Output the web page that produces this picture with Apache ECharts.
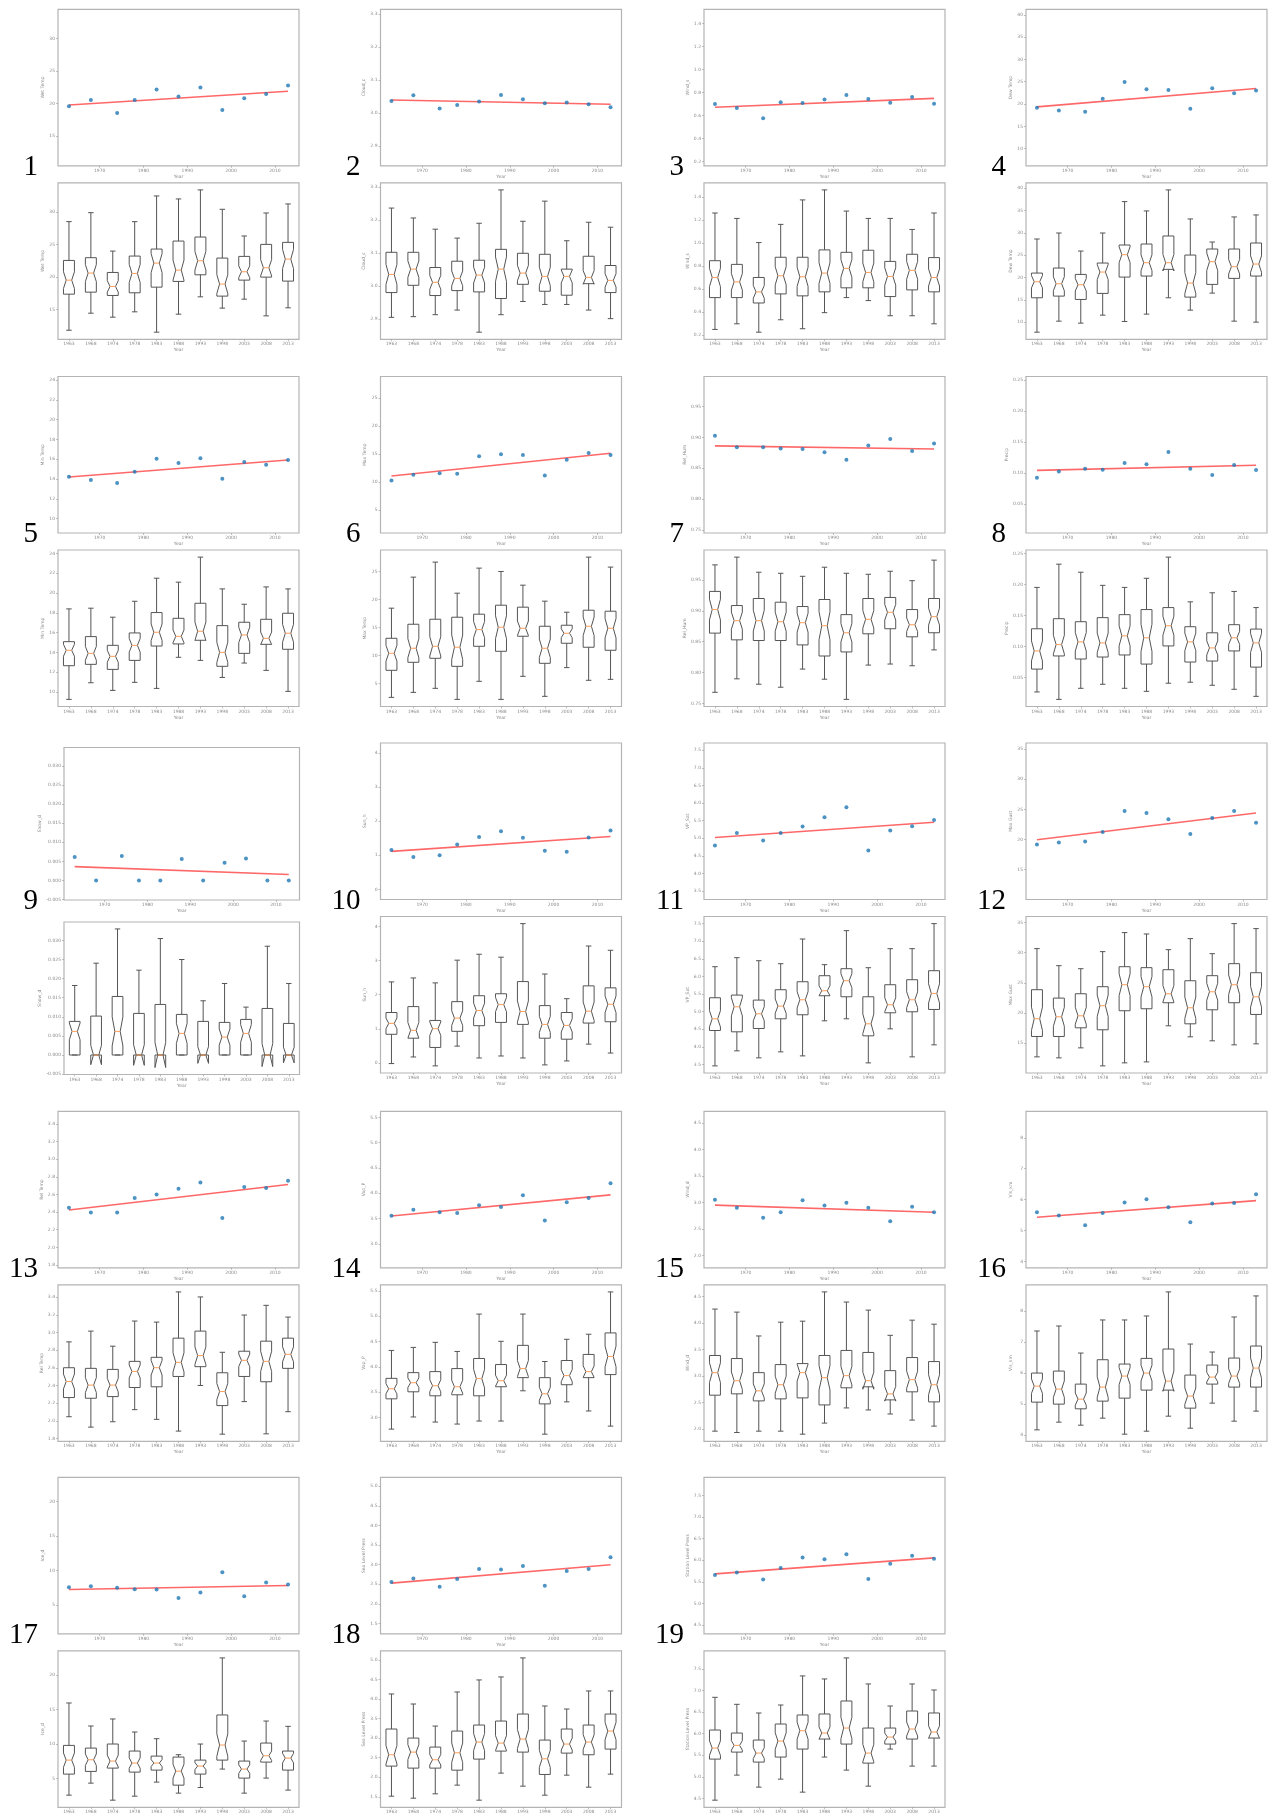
<!DOCTYPE html>
<html><head><meta charset="utf-8">
<script src="https://cdn.jsdelivr.net/npm/echarts@6/dist/echarts.min.js"></script>
<style>html,body{margin:0;padding:0;background:#fff;}#chart{width:1279px;height:1814px;}</style>
</head><body><div id="chart"></div>
<script>
// ---------------- data ----------------
const years = [1963, 1968, 1974, 1978, 1983, 1988, 1993, 1998, 2003, 2008, 2013];
const yearLabels = ['1963', '1968', '1974', '1978', '1983', '1988', '1993', '1998', '2003', '2008', '2013'];
const scatterXTicks = [1970, 1980, 1990, 2000, 2010];
const panelLabels = ['1','2','3','4','5','6','7','8','9','10','11','12','13','14','15','16','17','18','19'];
const yNames = ['Wet Temp','Cloud_c','Wind_s','Dew Temp','Min Temp','Max Temp','Rel_Hum','Precip','Snow_d','Sun_h',
  'VP_Sat','Max Gust','Rel Temp','Vap_P','Wind_d','Vis_km','Ice_d','Sea Level Press','Station Level Press'];
const yTicks = [
  [15,20,25,30], [2.9,3.0,3.1,3.2,3.3], [0.2,0.4,0.6,0.8,1.0,1.2,1.4], [10,15,20,25,30,35,40],
  [10,12,14,16,18,20,22,24], [5,10,15,20,25], [0.75,0.80,0.85,0.90,0.95], [0.05,0.10,0.15,0.20,0.25],
  [-0.005,0,0.005,0.010,0.015,0.020,0.025,0.030], [0,1,2,3,4], [3.5,4.0,4.5,5.0,5.5,6.0,6.5,7.0,7.5], [10,15,20,25,30,35],
  [1.8,2.0,2.2,2.4,2.6,2.8,3.0,3.2,3.4], [3.0,3.5,4.0,4.5,5.0,5.5], [2.0,2.5,3.0,3.5,4.0,4.5], [4,5,6,7,8],
  [5,10,15,20], [1.5,2.0,2.5,3.0,3.5,4.0,4.5,5.0], [4.5,5.0,5.5,6.0,6.5,7.0,7.5]
];
const yTickDecimals = [0,1,1,0,0,0,2,2,3,0,1,0,1,1,1,0,0,1,1];

// per-year points of the upper panels
const yearPoints = [
  [19.57,20.55,18.55,20.55,22.14,21.06,22.45,19.01,20.81,21.47,22.76],
  [3.036,3.053,3.013,3.024,3.034,3.054,3.041,3.029,3.031,3.026,3.017],
  [0.699,0.664,0.574,0.713,0.708,0.739,0.777,0.742,0.710,0.760,0.702],
  [19.15,18.56,18.26,21.16,24.95,23.32,23.17,18.93,23.54,22.42,23.02],
  [14.22,13.89,13.58,14.73,16.05,15.61,16.08,14.02,15.71,15.44,15.92],
  [10.30,11.32,11.56,11.50,14.60,14.95,14.83,11.20,14.00,15.19,14.83],
  [0.9027,0.8840,0.8840,0.8818,0.8812,0.8757,0.8637,0.8867,0.8972,0.8779,0.8900],
  [0.0923,0.1027,0.1071,0.1055,0.1164,0.1142,0.1340,0.1071,0.0967,0.1131,0.1049],
  [0.00613,0,0.00639,0,0,0.00561,0,0.00466,0.00579,0,0],
  [1.155,0.952,1.000,1.321,1.534,1.709,1.515,1.136,1.107,1.524,1.728],
  [4.792,5.150,4.934,5.150,5.330,5.594,5.877,4.650,5.217,5.339,5.518],
  [19.17,19.51,19.67,21.23,24.73,24.40,23.34,20.90,23.57,24.73,22.79],
  [2.449,2.396,2.396,2.559,2.600,2.664,2.736,2.332,2.683,2.672,2.755],
  [3.557,3.676,3.623,3.610,3.762,3.729,3.961,3.464,3.822,3.908,4.200],
  [3.054,2.902,2.713,2.820,3.047,2.947,2.997,2.902,2.650,2.921,2.820],
  [5.589,5.481,5.167,5.567,5.903,6.011,5.751,5.265,5.870,5.892,6.173],
  [7.573,7.718,7.476,7.281,7.233,6.019,6.796,9.757,6.262,8.252,7.961],
  [2.553,2.647,2.433,2.630,2.887,2.878,2.964,2.459,2.835,2.887,3.186],
  [5.659,5.714,5.551,5.822,6.061,6.023,6.139,5.567,5.915,6.100,6.031]
];
// fitted line values at the first and last year
const trendEnds = [
  [19.78,21.89],[3.039,3.026],[0.670,0.748],[19.37,23.47],[14.19,15.92],[11.08,15.13],[0.8862,0.8812],
  [0.1044,0.1126],[0.00363,0.00156],[1.117,1.554],[5.018,5.452],[19.95,24.40],[2.423,2.713],[3.550,3.968],
  [2.953,2.820],[5.427,5.967],[7.233,7.815],[2.527,2.998],[5.683,6.054]
];
const boxLow = [
  [11.81,14.43,13.82,14.64,11.51,14.28,16.95,15.21,16.59,14.02,15.26],
  [2.906,2.908,2.914,2.928,2.861,2.914,2.954,2.945,2.945,2.928,2.902],
  [0.247,0.296,0.223,0.331,0.253,0.393,0.524,0.498,0.366,0.366,0.296],
  [7.75,10.22,9.78,11.57,10.15,11.80,15.46,12.69,16.51,10.22,10.00],
  [9.26,10.94,10.17,10.98,10.37,13.51,13.20,11.48,12.93,12.19,10.07],
  [2.56,3.45,4.17,2.20,5.42,2.20,6.31,2.74,7.86,5.60,5.77],
  [0.7680,0.7898,0.7811,0.7762,0.8056,0.7892,0.7565,0.8121,0.8138,0.8110,0.8367],
  [0.0267,0.0147,0.0326,0.0391,0.0326,0.0277,0.0408,0.0424,0.0375,0.0310,0.0196],
  [0,0,0,0,0,0,0,0,0,0,0],
  [-0.019,0.174,-0.087,0.493,0.145,0.203,0.145,-0.058,0.058,0.551,0.290],
  [3.462,3.889,3.690,3.860,3.746,4.742,4.799,3.547,4.514,3.718,4.059],
  [12.72,12.55,14.21,11.22,11.72,11.88,17.87,16.04,15.38,14.71,14.88],
  [2.047,1.929,1.990,2.127,2.017,1.884,2.401,1.849,2.218,1.853,2.104],
  [2.767,3.007,2.907,2.867,2.927,2.927,3.525,2.667,3.306,3.126,2.827],
  [1.962,1.937,1.962,1.962,1.905,2.114,2.400,2.362,2.286,2.171,2.057],
  [4.162,4.411,4.313,4.541,4.022,4.119,4.605,4.216,5.027,4.443,4.768],
  [2.58,4.32,1.85,2.43,4.47,2.87,3.69,6.36,2.87,5.05,3.31],
  [1.517,1.466,1.577,1.799,1.415,2.106,1.773,1.543,2.054,1.747,2.080],
  [4.461,5.041,4.763,4.948,4.647,5.459,5.157,4.786,5.644,5.250,5.250]
];
const boxQ1 = [
  [17.36,17.67,17.16,17.57,18.44,19.32,20.34,17.06,19.52,19.98,19.37],
  [2.981,3.003,2.972,2.987,2.983,2.963,3.006,2.985,2.973,3.008,2.981],
  [0.524,0.524,0.477,0.556,0.539,0.574,0.609,0.609,0.533,0.591,0.574],
  [15.46,15.84,15.09,16.44,20.10,20.33,21.83,15.61,18.46,19.81,20.33],
  [12.66,12.80,12.29,13.20,14.65,14.86,15.23,12.60,13.91,14.82,14.32],
  [7.38,8.81,9.52,8.09,11.66,10.77,13.45,8.63,12.20,11.49,10.95],
  [0.8639,0.8530,0.8519,0.8519,0.8448,0.8268,0.8334,0.8628,0.8710,0.8579,0.8645],
  [0.0636,0.0848,0.0799,0.0831,0.0864,0.0717,0.1010,0.0750,0.0766,0.0929,0.0668],
  [0,0,0,0,0,0,0,0,0,0,0],
  [0.840,0.725,0.454,0.927,1.092,1.188,1.130,0.725,0.696,1.169,1.208],
  [4.467,4.429,4.524,4.799,4.913,5.453,5.424,4.315,4.969,4.998,5.064],
  [16.10,16.10,17.54,17.21,20.37,20.70,21.70,18.20,20.53,21.70,19.76],
  [2.264,2.256,2.275,2.378,2.386,2.503,2.614,2.173,2.503,2.443,2.595],
  [3.366,3.505,3.426,3.446,3.426,3.605,3.785,3.266,3.645,3.785,3.845],
  [2.641,2.666,2.533,2.571,2.590,2.457,2.780,2.799,2.552,2.704,2.514],
  [5.059,4.995,4.843,5.092,5.189,5.449,5.449,4.865,5.643,5.546,5.546],
  [5.63,6.02,6.50,5.92,6.21,4.03,5.63,7.66,5.05,7.37,6.21],
  [2.285,2.234,2.234,2.182,2.464,2.669,2.643,2.072,2.617,2.575,2.720],
  [5.412,5.574,5.343,5.459,5.644,5.876,5.760,5.319,5.760,5.876,5.899]
];
const boxMedian = [
  [19.52,20.60,18.55,20.55,22.14,21.06,22.50,18.91,20.81,21.42,22.76],
  [3.036,3.052,3.012,3.024,3.034,3.052,3.040,3.030,3.030,3.027,3.018],
  [0.699,0.661,0.574,0.714,0.705,0.737,0.778,0.743,0.708,0.761,0.699],
  [19.06,18.61,18.38,21.23,25.12,23.32,23.32,18.76,23.55,22.43,23.02],
  [14.22,13.91,13.61,14.72,16.04,15.63,16.14,14.01,15.77,15.43,15.94],
  [10.41,11.31,11.66,11.49,14.64,15.06,14.88,11.31,13.98,15.23,14.88],
  [0.9021,0.8841,0.8841,0.8824,0.8808,0.8759,0.8645,0.8863,0.8977,0.8775,0.8906],
  [0.0929,0.1032,0.1076,0.1059,0.1173,0.1141,0.1336,0.1076,0.0978,0.1141,0.1059],
  [0.00618,0,0.00618,0,0,0.00566,0,0.00470,0.00566,0,0],
  [1.159,0.956,1.005,1.314,1.536,1.710,1.507,1.130,1.101,1.517,1.720],
  [4.799,5.140,4.941,5.159,5.339,5.595,5.879,4.657,5.197,5.339,5.519],
  [19.04,19.37,19.53,21.20,24.69,24.36,23.19,20.86,23.52,24.69,22.69],
  [2.446,2.405,2.405,2.560,2.602,2.663,2.739,2.332,2.686,2.674,2.754],
  [3.565,3.685,3.625,3.605,3.765,3.725,3.964,3.466,3.825,3.904,4.204],
  [3.066,2.914,2.723,2.838,3.066,2.971,3.009,2.914,2.666,2.933,2.838],
  [5.578,5.481,5.157,5.546,5.903,6.000,5.740,5.254,5.870,5.903,6.162],
  [7.66,7.71,7.52,7.23,7.23,6.06,6.79,9.84,6.36,8.29,7.95],
  [2.575,2.643,2.447,2.626,2.899,2.873,2.976,2.472,2.848,2.899,3.180],
  [5.667,5.729,5.551,5.830,6.069,6.015,6.131,5.551,5.922,6.108,6.038]
];
const boxQ3 = [
  [22.55,22.97,20.70,23.22,24.30,25.53,26.15,22.91,23.17,25.02,25.33],
  [3.103,3.103,3.057,3.076,3.079,3.112,3.100,3.097,3.052,3.091,3.063],
  [0.845,0.813,0.699,0.875,0.875,0.939,0.918,0.936,0.839,0.901,0.872],
  [21.00,22.13,20.70,23.25,27.29,27.51,29.31,25.04,26.39,26.39,27.74],
  [15.09,15.60,14.72,15.97,18.03,17.45,18.97,16.71,17.05,17.35,17.96],
  [13.09,15.59,16.48,16.84,17.38,18.98,18.63,15.23,15.41,18.09,17.91],
  [0.9315,0.9086,0.9200,0.9140,0.9070,0.9184,0.8939,0.9200,0.9217,0.9021,0.9200],
  [0.1287,0.1450,0.1401,0.1467,0.1515,0.1597,0.1629,0.1320,0.1222,0.1353,0.1282],
  [0.00880,0.01019,0.01533,0.01089,0.01324,0.01063,0.00880,0.00854,0.00932,0.01219,0.00827],
  [1.478,1.652,1.246,1.797,1.971,2.029,2.386,1.681,1.478,2.260,2.202],
  [5.396,5.472,5.330,5.624,5.851,6.022,6.221,5.424,5.766,5.908,6.164],
  [23.86,22.47,23.19,24.36,27.68,27.52,27.18,25.35,26.19,28.18,26.68],
  [2.602,2.595,2.583,2.674,2.720,2.937,3.017,2.545,2.789,2.903,2.937],
  [3.771,3.884,3.904,3.964,4.164,4.044,4.423,3.785,4.124,4.244,4.669],
  [3.390,3.332,3.066,3.218,3.237,3.390,3.485,3.447,3.104,3.351,3.275],
  [6.000,6.065,5.643,6.432,6.292,6.475,6.778,5.935,6.259,6.486,6.875],
  [9.79,9.40,9.99,8.97,8.24,8.10,7.66,14.20,7.52,10.13,8.97],
  [3.232,3.001,2.771,3.180,3.334,3.436,3.615,2.950,3.232,3.334,3.615],
  [6.085,6.015,5.853,6.224,6.433,6.456,6.757,6.131,6.131,6.525,6.479]
];
const boxHigh = [
  [28.52,29.90,23.99,28.52,32.47,32.01,33.40,30.42,26.31,29.85,31.24],
  [3.237,3.207,3.173,3.146,3.191,3.292,3.197,3.258,3.138,3.194,3.179],
  [1.260,1.213,1.003,1.161,1.374,1.461,1.277,1.213,1.213,1.117,1.260],
  [28.64,29.98,25.94,29.98,37.02,34.93,39.64,33.13,27.96,33.58,34.03],
  [18.40,18.47,17.56,19.17,21.50,21.10,23.63,20.42,18.87,20.62,20.42],
  [18.45,23.98,26.66,21.12,25.59,24.99,22.55,19.70,17.73,27.55,25.77],
  [0.9745,0.9871,0.9626,0.9609,0.9560,0.9707,0.9609,0.9593,0.9642,0.9489,0.9822],
  [0.1955,0.2330,0.2200,0.1988,0.1955,0.2102,0.2444,0.1722,0.1868,0.1890,0.1629],
  [0.01820,0.02404,0.03301,0.02221,0.03049,0.02500,0.01420,0.01873,0.01254,0.02848,0.01873],
  [2.376,2.492,2.347,3.014,3.188,3.101,4.086,2.608,1.884,3.429,3.304],
  [6.278,6.534,6.448,6.363,7.064,6.335,7.301,6.249,6.790,6.790,7.501],
  [30.68,27.85,27.35,30.18,33.34,33.11,30.51,32.34,29.84,34.83,34.00],
  [2.895,3.017,2.846,3.131,3.119,3.461,3.404,2.777,3.199,3.309,3.176],
  [4.323,4.383,4.483,4.303,5.042,4.503,5.042,4.104,4.543,4.643,5.480],
  [4.265,4.208,3.758,4.018,4.037,4.589,4.398,4.246,3.770,4.056,3.980],
  [7.362,7.524,6.648,7.719,7.719,7.848,8.627,6.940,6.681,7.816,8.497],
  [15.94,12.60,13.62,11.73,10.76,8.44,9.99,22.47,10.42,13.32,12.55],
  [4.127,3.871,3.308,4.178,4.486,4.562,5.048,3.820,3.743,4.204,4.204],
  [6.842,6.680,6.479,6.664,7.337,7.267,7.754,7.151,6.641,7.151,7.012]
];
const NOTCH_N = 40; // sample count used for the notch width

// ---------------- layout ----------------
const COL_LEFT = [58, 380.5, 704, 1026];
const ROW_TOP = [9.3, 376.5, 743, 1111.3, 1477.3];
const PANEL_W = 241, PANEL_H = 156.5, BOX_OFFSET = 173.5;
const LINE_C = '#555555', FRAME_C = '#b4b4b4', LABEL_C = '#8a8a8a';

function panelRects(p) {
  const col = p % 4, row = Math.floor(p / 4);
  let l = COL_LEFT[col], t = ROW_TOP[row], w = PANEL_W, h = PANEL_H;
  if (p === 8) { // panel 9 axes are slightly smaller
    return [{left: 64, top: 747.5, width: 235.5, height: 152.5}, {left: 64, top: 922, width: 235.5, height: 152.5}];
  }
  return [{left: l, top: t, width: w, height: h}, {left: l, top: t + BOX_OFFSET, width: w, height: h}];
}

const grids = [], xAxes = [], yAxes = [], series = [], graphics = [];
const notchK = 1.57 / Math.sqrt(NOTCH_N);

function yAxisFor(p, gi, min, max) {
  const d = yTickDecimals[p];
  return {
    type: 'value', gridIndex: gi, min: min, max: max,
    name: yNames[p], nameLocation: 'middle', nameGap: 13,
    nameTextStyle: {fontSize: 4.5, color: LABEL_C, fontFamily: 'DejaVu Sans'},
    axisLine: {show: false, onZero: false}, splitLine: {show: false},
    axisTick: {show: true, length: 2, customValues: yTicks[p], lineStyle: {color: '#999', width: 0.6}},
    axisLabel: {fontSize: 4.5, color: LABEL_C, margin: 3, fontFamily: 'DejaVu Sans', customValues: yTicks[p],
      formatter: v => Number(v).toFixed(d)}
  };
}

function renderBox(params, api) {
  const i = api.value(0);
  const lo = api.value(1), q1 = api.value(2), med = api.value(3), q3 = api.value(4), hi = api.value(5);
  const nlo = api.value(6), nhi = api.value(7);
  const band = api.size([1, 0])[0];
  const bw = band * 0.25, cw = band * 0.125;
  const x = api.coord([i, med])[0];
  const Y = v => api.coord([i, v])[1];
  const st = {stroke: LINE_C, lineWidth: 1, fill: 'none'};
  const pts = [[x - bw, Y(q1)], [x + bw, Y(q1)], [x + bw, Y(nlo)], [x + cw, Y(med)], [x + bw, Y(nhi)],
    [x + bw, Y(q3)], [x - bw, Y(q3)], [x - bw, Y(nhi)], [x - cw, Y(med)], [x - bw, Y(nlo)]];
  return {type: 'group', children: [
    {type: 'polygon', shape: {points: pts}, style: st},
    {type: 'line', shape: {x1: x, y1: Y(q1), x2: x, y2: Y(lo)}, style: st},
    {type: 'line', shape: {x1: x, y1: Y(q3), x2: x, y2: Y(hi)}, style: st},
    {type: 'line', shape: {x1: x - cw, y1: Y(lo), x2: x + cw, y2: Y(lo)}, style: st},
    {type: 'line', shape: {x1: x - cw, y1: Y(hi), x2: x + cw, y2: Y(hi)}, style: st},
    {type: 'line', shape: {x1: x - cw, y1: Y(med), x2: x + cw, y2: Y(med)}, style: {stroke: '#ff9f5a', lineWidth: 1}}
  ]};
}

for (let p = 0; p < 19; p++) {
  const rects = panelRects(p);
  const gS = 2 * p, gB = 2 * p + 1;
  rects.forEach(r => grids.push(Object.assign({show: true, borderColor: FRAME_C, borderWidth: 1.2,
    backgroundColor: '#fff', containLabel: false, outerBoundsMode: 'none'}, r)));

  // box items and shared y range (matplotlib-style 5% margin incl. notches)
  const items = [];
  let lo = Infinity, hi = -Infinity;
  for (let i = 0; i < years.length; i++) {
    const iqr = boxQ3[p][i] - boxQ1[p][i];
    const nlo = boxMedian[p][i] - notchK * iqr, nhi = boxMedian[p][i] + notchK * iqr;
    items.push([i, boxLow[p][i], boxQ1[p][i], boxMedian[p][i], boxQ3[p][i], boxHigh[p][i], nlo, nhi]);
    lo = Math.min(lo, boxLow[p][i], nlo);
    hi = Math.max(hi, boxHigh[p][i], nhi);
  }
  const pad = (hi - lo) * 0.05;
  const yMin = lo - pad, yMax = hi + pad;

  xAxes.push({
    type: 'value', gridIndex: gS, min: 1960.5, max: 2015.5,
    name: 'Year', nameLocation: 'middle', nameGap: 7,
    nameTextStyle: {fontSize: 4.5, color: LABEL_C, fontFamily: 'DejaVu Sans'},
    axisLine: {show: false, onZero: false}, splitLine: {show: false},
    axisTick: {show: true, length: 2, customValues: scatterXTicks, lineStyle: {color: '#999', width: 0.6}},
    axisLabel: {fontSize: 4.5, color: LABEL_C, margin: 2.5, fontFamily: 'DejaVu Sans', customValues: scatterXTicks,
      formatter: v => String(Math.round(v))}
  });
  xAxes.push({
    type: 'category', gridIndex: gB, data: yearLabels, boundaryGap: true,
    name: 'Year', nameLocation: 'middle', nameGap: 7,
    nameTextStyle: {fontSize: 4.5, color: LABEL_C, fontFamily: 'DejaVu Sans'},
    axisLine: {show: false, onZero: false}, splitLine: {show: false},
    axisTick: {show: true, length: 2, alignWithLabel: true, lineStyle: {color: '#999', width: 0.6}},
    axisLabel: {fontSize: 4.5, color: LABEL_C, margin: 2.5, interval: 0, fontFamily: 'DejaVu Sans'}
  });
  yAxes.push(yAxisFor(p, gS, yMin, yMax));
  yAxes.push(yAxisFor(p, gB, yMin, yMax));

  series.push({
    type: 'line', xAxisIndex: gS, yAxisIndex: gS, silent: true, symbol: 'none',
    data: [[years[0], trendEnds[p][0]], [years[years.length - 1], trendEnds[p][1]]],
    lineStyle: {color: '#ff6868', width: 1.6}, z: 2
  });
  series.push({
    type: 'scatter', xAxisIndex: gS, yAxisIndex: gS, silent: true, symbol: 'circle', symbolSize: 4,
    data: years.map((y, i) => [y, yearPoints[p][i]]),
    itemStyle: {color: '#1f77b4'}, z: 3
  });
  series.push({
    type: 'custom', xAxisIndex: gB, yAxisIndex: gB, silent: true,
    renderItem: renderBox, data: items,
    encode: {x: 0, y: [1, 2, 3, 4, 5, 6, 7]}, z: 2
  });

  const col = p % 4, row = Math.floor(p / 4);
  graphics.push({
    type: 'text', silent: true,
    style: {text: panelLabels[p], x: COL_LEFT[col] - 20, y: ROW_TOP[row] + PANEL_H + 1.5,
      align: 'right', verticalAlign: 'middle', fill: '#000',
      font: '29px "Liberation Serif", "Times New Roman", serif'}
  });
}

const chart = echarts.init(document.getElementById('chart'), null, {renderer: 'canvas', width: 1279, height: 1814});
chart.setOption({
  animation: false,
  backgroundColor: '#fff',
  grid: grids, xAxis: xAxes, yAxis: yAxes, series: series, graphic: graphics
});
</script></body></html>
